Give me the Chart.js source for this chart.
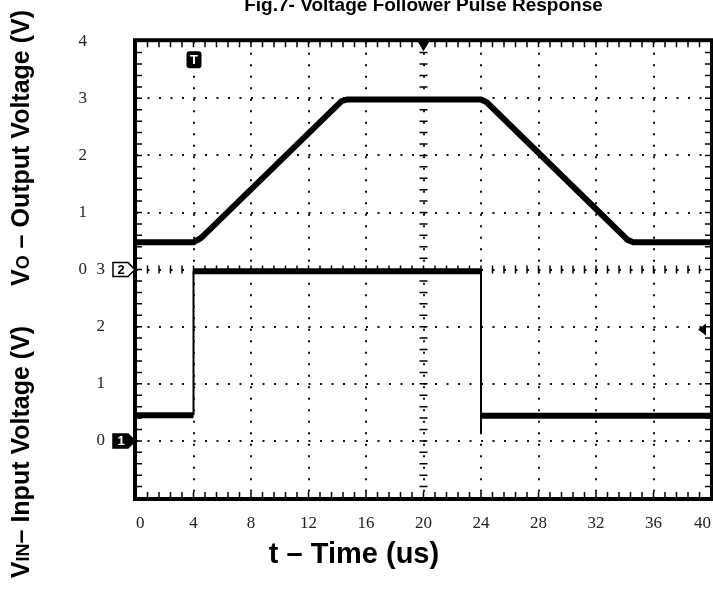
<!DOCTYPE html>
<html>
<head>
<meta charset="utf-8">
<script src="https://cdn.jsdelivr.net/npm/chart.js@4.4.1/dist/chart.umd.min.js"></script>
<style>
  html, body { margin: 0; padding: 0; background: #fff; overflow: hidden; }
</style>
</head>
<body>
<canvas id="scopeChart" width="713" height="589"></canvas>
<script>
// input pulse (lower trace), time in us, volts
var vinTime  = [0, 4, 4, 24, 24, 24, 40];
var vinVolts = [0.45, 0.45, 2.97, 2.97, 0.14, 0.44, 0.44];

// output of the follower (upper trace)
var voTime  = [0, 4.0, 4.5, 5.0, 14.3, 14.7, 24.0, 24.4, 34.2, 34.6, 40];
var voVolts = [0.48, 0.48, 0.55, 0.67, 2.95, 2.98, 2.98, 2.93, 0.52, 0.48, 0.48];

var outTicks = [0, 1, 2, 3, 4];
var inTicks = [0, 1, 2, 3];

function toPoints(xs, ys) {
  return xs.map(function (x, i) { return { x: x, y: ys[i] }; });
}

// thin vertical edges, thick noisy flats
var traceWidth = function (ctx) {
  return ctx.p0.parsed.x === ctx.p1.parsed.x ? 2 : 6;
};

function drawRotated(c, x, cy, parts) {
  var total = 0;
  parts.forEach(function (p) { c.font = p.font; total += c.measureText(p.text).width; });
  c.save();
  c.translate(x, cy);
  c.rotate(-Math.PI / 2);
  c.textBaseline = 'alphabetic';
  c.textAlign = 'left';
  var pos = -total / 2;
  parts.forEach(function (p) {
    c.font = p.font;
    c.fillText(p.text, pos, 0);
    pos += c.measureText(p.text).width;
  });
  c.restore();
}

var scopeDecor = {
  id: 'scopeDecor',
  afterDraw: function (chart) {
    var c = chart.ctx, a = chart.chartArea;
    var sx = chart.scales.x, sy = chart.scales.yIn;
    var cx = sx.getPixelForValue(20), cy = sy.getPixelForValue(3);
    c.save();
    c.strokeStyle = '#000';
    c.fillStyle = '#000';

    // minor graticule ticks
    c.lineWidth = 1.5;
    c.beginPath();
    for (var t = 0; t <= 40.001; t += 0.8) {
      var px = sx.getPixelForValue(t);
      c.moveTo(px, a.top); c.lineTo(px, a.top + 6);
      c.moveTo(px, a.bottom); c.lineTo(px, a.bottom - 6);
      c.moveTo(px, cy - 4); c.lineTo(px, cy + 4);
    }
    for (var v = -1; v <= 7.001; v += 0.2) {
      var py = sy.getPixelForValue(v);
      c.moveTo(a.left, py); c.lineTo(a.left + 6, py);
      c.moveTo(a.right, py); c.lineTo(a.right - 6, py);
      c.moveTo(cx - 4, py); c.lineTo(cx + 4, py);
    }
    c.stroke();

    // frame
    c.lineWidth = 4;
    c.strokeRect(a.left - 1, a.top - 1, a.right - a.left + 2, a.bottom - a.top + 2);

    // trigger markers
    var tx = sx.getPixelForValue(4);
    c.beginPath();
    c.roundRect(tx - 7, a.top + 10, 15, 17, 3);
    c.fill();
    c.fillStyle = '#fff';
    c.font = 'bold 13px "Liberation Sans"';
    c.textAlign = 'center';
    c.textBaseline = 'middle';
    c.fillText('T', tx + 0.5, a.top + 19);
    c.fillStyle = '#000';
    c.beginPath();
    c.moveTo(cx - 6, a.top); c.lineTo(cx + 6, a.top); c.lineTo(cx, a.top + 10);
    c.closePath(); c.fill();

    // channel markers
    function chanMark(y, label, filled) {
      c.beginPath();
      c.moveTo(a.left - 23, y - 7);
      c.lineTo(a.left - 8, y - 7);
      c.lineTo(a.left - 1, y);
      c.lineTo(a.left - 8, y + 7);
      c.lineTo(a.left - 23, y + 7);
      c.closePath();
      c.lineWidth = 1.5;
      c.fillStyle = filled ? '#000' : '#fff';
      c.fill();
      c.stroke();
      c.fillStyle = filled ? '#fff' : '#000';
      c.font = 'bold 13px "Liberation Sans"';
      c.fillText(label, a.left - 15, y + 0.5);
      c.fillStyle = '#000';
    }
    chanMark(cy, '2', false);
    chanMark(sy.getPixelForValue(0), '1', true);

    // level arrow on the right
    var ly = sy.getPixelForValue(1.95);
    c.beginPath();
    c.moveTo(a.right - 13, ly); c.lineTo(a.right - 5, ly - 6); c.lineTo(a.right - 5, ly + 6);
    c.closePath(); c.fill();

    // titles
    c.fillStyle = '#000';
    c.font = 'bold 19px "Liberation Sans"';
    c.textAlign = 'center';
    c.textBaseline = 'alphabetic';
    c.fillText('Fig.7- Voltage Follower Pulse Response', (a.left + a.right) / 2, 11);

    drawRotated(c, 29, 148, [
      { text: 'V', font: 'bold 25px "Liberation Sans"' },
      { text: 'O', font: 'bold 18px "Liberation Sans"' },
      { text: ' \u2013 Output Voltage (V)', font: 'bold 25px "Liberation Sans"' }
    ]);
    drawRotated(c, 29, 452, [
      { text: 'V', font: 'bold 25px "Liberation Sans"' },
      { text: 'IN', font: 'bold 18px "Liberation Sans"' },
      { text: '\u2013 Input Voltage (V)', font: 'bold 25px "Liberation Sans"' }
    ]);
    c.font = 'bold 29px "Liberation Sans"';
    c.textAlign = 'center';
    c.textBaseline = 'middle';
    c.fillText('t \u2013 Time (us)', 354, 555);
    c.restore();
  }
};

var tickFont = { family: '"Liberation Serif"', size: 17 };

var ctx = document.getElementById('scopeChart');
var scopeChart = new Chart(ctx, {
  type: 'line',
  data: {
    datasets: [{
      label: 'VO',
      data: toPoints(voTime, voVolts),
      yAxisID: 'yOut',
      borderColor: '#000',
      borderWidth: 6,
      pointRadius: 0,
      segment: { borderWidth: traceWidth }
    }, {
      label: 'VIN',
      data: toPoints(vinTime, vinVolts),
      yAxisID: 'yIn',
      borderColor: '#000',
      borderWidth: 6,
      pointRadius: 0,
      segment: { borderWidth: traceWidth }
    }]
  },
  options: {
    responsive: false,
    animation: false,
    layout: { padding: { left: 66, right: 2, top: 37, bottom: 51 } },
    plugins: {
      legend: { display: false },
      tooltip: { enabled: false },
      title: { display: false }
    },
    scales: {
      x: {
        type: 'linear',
        min: 0,
        max: 40,
        ticks: { stepSize: 4, font: tickFont, color: '#222', padding: 15, align: 'inner' },
        grid: { color: '#111', lineWidth: 2, drawTicks: false },
        border: { display: false, dash: [2, 9.5] },
        afterFit: function (s) { s.height = 40; s.paddingLeft = 0; s.paddingRight = 0; }
      },
      yOut: {
        position: 'left',
        weight: 1,
        min: -4,
        max: 4,
        ticks: {
          stepSize: 1, font: tickFont, color: '#222', padding: 3,
          callback: function (v) { return outTicks.indexOf(v) >= 0 ? v : ''; }
        },
        grid: { display: false, drawTicks: false },
        border: { display: false },
        afterFit: function (s) { s.width = 24; }
      },
      yIn: {
        position: 'left',
        weight: 0,
        min: -1,
        max: 7,
        ticks: {
          stepSize: 1, font: tickFont, color: '#222', padding: 31,
          callback: function (v) { return inTicks.indexOf(v) >= 0 ? v : ''; }
        },
        grid: { color: '#111', lineWidth: 2, drawTicks: false },
        border: { display: false, dash: [2, 9.5] },
        afterFit: function (s) { s.width = 46; }
      }
    }
  },
  plugins: [scopeDecor]
});
</script>
</body>
</html>
